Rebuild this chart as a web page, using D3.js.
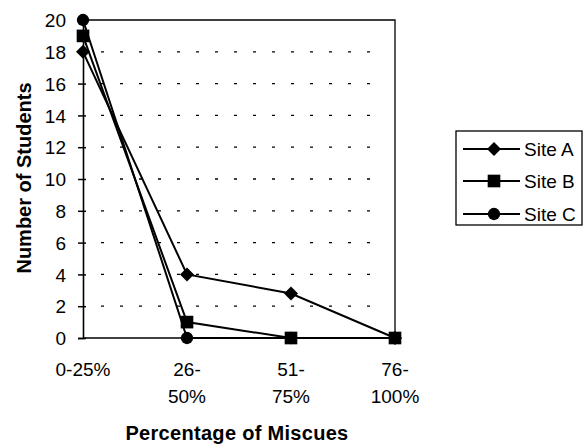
<!DOCTYPE html>
<html><head><meta charset="utf-8">
<script src="https://cdn.jsdelivr.net/npm/d3@7"></script>
<style>body{margin:0;background:#fff}svg{display:block}text{font-family:Arial,"Liberation Sans",sans-serif;fill:#000}</style>
</head><body><svg id="c" width="585" height="444"></svg>
<script>
const categories = [["0-25%"], ["26-", "50%"], ["51-", "75%"], ["76-", "100%"]];
const categoryKeys = ["0-25%", "26-50%", "51-75%", "76-100%"];
const siteA = [18, 4, 2.8, 0];
const siteB = [19, 1, 0, 0];
const siteC = [20, 0, 0, 0];
const seriesNames = ["Site A", "Site B", "Site C"];
const yTicks = [0, 2, 4, 6, 8, 10, 12, 14, 16, 18, 20];

const diamond = { draw(ctx, size) { const r = Math.sqrt(size / 2); ctx.moveTo(0, -r); ctx.lineTo(r, 0); ctx.lineTo(0, r); ctx.lineTo(-r, 0); ctx.closePath(); } };
const seriesSymbols = [diamond, d3.symbolSquare, d3.symbolCircle];
const symSize = [98, 160, 120];

const svg = d3.select("#c");
const L = 83, R = 395, T = 20, B = 338;
const x = d3.scalePoint().domain(categoryKeys).range([L, R]);
const y = d3.scaleLinear().domain([0, 20]).range([B, T]);

// grid
svg.append("g").selectAll("line").data(yTicks.filter(v => v > 0 && v < 20)).join("line")
  .attr("x1", L + 18).attr("x2", R - 14).attr("y1", d => y(d)).attr("y2", d => y(d))
  .attr("stroke", "#000").attr("stroke-width", 1.3).attr("stroke-dasharray", "3,16");

// frame top/right
svg.append("path").attr("d", `M${L},${T}H${R}V${B}`).attr("fill", "none").attr("stroke", "#000").attr("stroke-width", 1.3);

// y axis
const yAxis = d3.axisLeft(y).tickValues(yTicks).tickSize(5).tickPadding(12);
const gy = svg.append("g").attr("transform", `translate(${L},0)`).call(yAxis);
gy.select(".domain").attr("stroke-width", 1.6);
gy.selectAll(".tick line").attr("x2", -5).attr("x1", 3).attr("stroke-width", 1.5);
gy.selectAll("text").attr("font-size", 19).attr("font-family", "Arial, Liberation Sans, sans-serif").attr("dy", "0.35em");

// x axis
const gx = svg.append("g").attr("transform", `translate(0,${B})`);
gx.append("line").attr("x1", L).attr("x2", R).attr("stroke", "#000").attr("stroke-width", 1.6);
categoryKeys.forEach((k, i) => {
  const t = gx.append("text").attr("x", x(k)).attr("y", 38).attr("text-anchor", "middle").attr("font-size", 19);
  categories[i].forEach((line, j) => t.append("tspan").attr("x", x(k)).attr("dy", j === 0 ? 0 : 27).text(line));
});

// titles
svg.append("text").attr("transform", `translate(31,178) rotate(-90)`).attr("text-anchor", "middle")
  .attr("font-size", 20).attr("font-weight", "bold").text("Number of Students");
svg.append("text").attr("x", 237).attr("y", 440).attr("text-anchor", "middle")
  .attr("font-size", 20).attr("font-weight", "bold").attr("letter-spacing", 0.3).text("Percentage of Miscues");

// series
const data = [siteA, siteB, siteC];
const line = d3.line().x((d, i) => x(categoryKeys[i])).y(d => y(d));
data.forEach((vals) => {
  svg.append("path").attr("d", line(vals)).attr("fill", "none").attr("stroke", "#000").attr("stroke-width", 2);
});
[2, 1, 0].forEach(s => {
  svg.append("g").selectAll("path").data(data[s]).join("path")
    .attr("transform", (d, i) => `translate(${x(categoryKeys[i])},${y(d)})`)
    .attr("d", d3.symbol().type(seriesSymbols[s]).size(symSize[s]));
});

// legend
const lg = svg.append("g");
lg.append("rect").attr("x", 456).attr("y", 131).attr("width", 126).attr("height", 94)
  .attr("fill", "none").attr("stroke", "#000").attr("stroke-width", 1.3);
const ly = [149, 181, 214];
seriesNames.forEach((n, i) => {
  lg.append("line").attr("x1", 463).attr("x2", 520).attr("y1", ly[i]).attr("y2", ly[i]).attr("stroke", "#000").attr("stroke-width", 2);
  lg.append("path").attr("transform", `translate(494,${ly[i]})`).attr("d", d3.symbol().type(seriesSymbols[i]).size(symSize[i]));
  lg.append("text").attr("x", 524).attr("y", ly[i]).attr("dy", "0.36em").attr("font-size", 19).text(n);
});
</script></body></html>
